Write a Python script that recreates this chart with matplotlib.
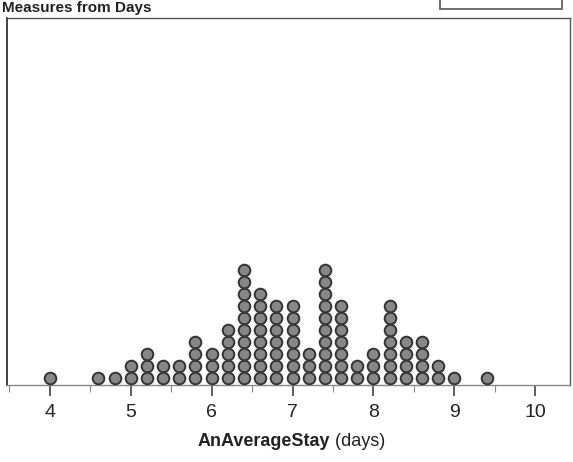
import matplotlib
matplotlib.use("Agg")
import matplotlib.pyplot as plt
from matplotlib.patches import Rectangle
import numpy as np

plt.rcParams['font.family'] = ['Liberation Sans', 'DejaVu Sans']

# Data: dot plot values (days) and count of stacked dots at each value
values = [4.0, 4.6, 4.8, 5.0, 5.2, 5.4, 5.6, 5.8, 6.0, 6.2, 6.4, 6.6, 6.8,
          7.0, 7.2, 7.4, 7.6, 7.8, 8.0, 8.2, 8.4, 8.6, 8.8, 9.0, 9.4]
counts = [1, 1, 1, 2, 3, 2, 2, 4, 3, 5, 10, 8, 7,
          7, 3, 10, 7, 2, 3, 7, 4, 4, 2, 1, 1]
tick_values = [4, 5, 6, 7, 8, 9, 10]
xlabel_bold = "AnAverageStay"
xlabel_rest = " (days)"
title_text = "Measures from Days"

W, H = 573, 462
fig = plt.figure(figsize=(W / 100, H / 100), dpi=100)
ax = fig.add_axes([7 / W, 1 - 385 / H, (570 - 7) / W, (385 - 18) / H])

xs, ys = [], []
for v, c in zip(values, counts):
    for i in range(c):
        xs.append(v)
        ys.append(i)
ax.scatter(xs, ys, s=70, facecolor='#878787', edgecolor='#333333',
           linewidths=1.4, zorder=3, clip_on=False)

ax.set_xlim(3.47, 10.43)
ax.set_ylim(-0.6, 30.0)
ax.set_yticks([])
ax.set_xticks(tick_values)
ax.set_xticks(np.arange(3.5, 10.5, 1.0), minor=True)
ax.tick_params(axis='x', which='major', length=8, width=1.2, color='#444444',
               labelsize=14, pad=6, labelcolor='#222222')
ax.tick_params(axis='x', which='minor', length=5, width=0.8, color='#888888')
for sp in ax.spines.values():
    sp.set_color('#555555')
    sp.set_linewidth(1.0)
ax.spines['left'].set_color('#333333')
ax.spines['left'].set_linewidth(1.3)
ax.spines['bottom'].set_color('#888888')

# x label with bold and normal parts
fig.canvas.draw()
r = fig.canvas.get_renderer()
y_lab = 1 - 441 / H
t1 = fig.text(0, y_lab, xlabel_bold, fontsize=13, fontweight='bold',
              ha='left', va='center', color='#222222')
t2 = fig.text(0, y_lab, xlabel_rest, fontsize=13, ha='left', va='center',
              color='#222222')
w1 = t1.get_window_extent(r).width
w2 = t2.get_window_extent(r).width
x0 = 291 - (w1 + w2) / 2
t1.set_x(x0 / W)
t2.set_x((x0 + w1) / W)

# header
fig.text(2 / W, 1 - 1 / H, title_text, fontsize=11, ha='left', va='top',
         color='#222222', fontweight='bold')
fig.patches.append(Rectangle((440 / W, 1 - 9 / H), 122 / W, 14 / H,
                             transform=fig.transFigure, facecolor='white',
                             edgecolor='#555555', linewidth=1.2))

fig.savefig('out.png', dpi=100)
